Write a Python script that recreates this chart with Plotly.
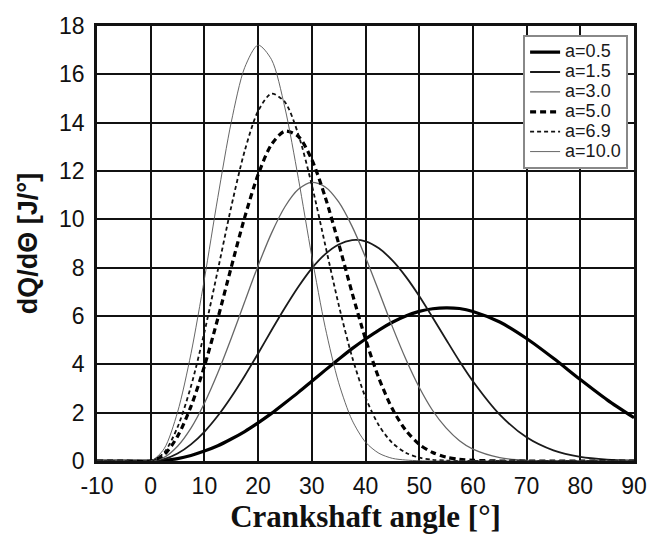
import plotly.graph_objects as go

angle = [-10, -5, 0, 2.5, 5, 7.5, 10, 12.5, 15, 17.5, 20, 22.5, 25, 27.5, 30, 32.5, 35, 37.5,
         40, 42.5, 45, 47.5, 50, 52.5, 55, 57.5, 60, 65, 70, 75, 80, 85, 90]

a05 = [0, 0, 0, 0.03, 0.10, 0.23, 0.41, 0.63, 0.91, 1.22, 1.58, 1.97, 2.40, 2.84, 3.30, 3.76, 4.21, 4.65,
       5.05, 5.42, 5.74, 6.00, 6.19, 6.30, 6.34, 6.31, 6.19, 5.75, 5.07, 4.25, 3.37, 2.53, 1.79]
a15 = [0, 0, 0, 0.08, 0.31, 0.69, 1.21, 1.87, 2.65, 3.52, 4.45, 5.41, 6.34, 7.21, 7.97, 8.56, 8.96, 9.14,
       9.09, 8.80, 8.30, 7.63, 6.83, 5.94, 5.03, 4.13, 3.30, 1.92, 0.98, 0.44, 0.17, 0.06, 0.02]
a30 = [0, 0, 0, 0.15, 0.61, 1.36, 2.39, 3.65, 5.08, 6.59, 8.08, 9.43, 10.52, 11.24, 11.53, 11.34, 10.72, 9.71,
       8.43, 7.01, 5.56, 4.22, 3.05, 2.09, 1.37, 0.84, 0.49, 0.14, 0.03, 0.01, 0, 0, 0]
a50 = [0, 0, 0, 0.26, 1.02, 2.26, 3.92, 5.90, 8.02, 10.08, 11.85, 13.10, 13.65, 13.43, 12.47, 10.92, 9.00, 6.96,
       5.05, 3.42, 2.16, 1.27, 0.69, 0.35, 0.16, 0.07, 0.03, 0, 0, 0, 0, 0, 0]
a69 = [0, 0, 0, 0.35, 1.40, 3.09, 5.33, 7.90, 10.52, 12.83, 14.48, 15.20, 14.85, 13.51, 11.42, 8.94, 6.47, 4.31,
       2.63, 1.47, 0.75, 0.34, 0.14, 0.05, 0.02, 0, 0, 0, 0, 0, 0, 0, 0]
a100 = [0, 0, 0, 0.51, 2.02, 4.44, 7.53, 10.91, 14.02, 16.28, 17.21, 16.61, 14.61, 11.69, 8.47, 5.53, 3.24, 1.69,
        0.78, 0.32, 0.11, 0.04, 0.01, 0, 0, 0, 0, 0, 0, 0, 0, 0, 0]

names = ["a=0.5", "a=1.5", "a=3.0", "a=5.0", "a=6.9", "a=10.0"]
series = [a05, a15, a30, a50, a69, a100]
styles = [
    dict(color="#000000", width=3.2, dash="solid"),
    dict(color="#1a1a1a", width=1.8, dash="solid"),
    dict(color="#666666", width=1.3, dash="solid"),
    dict(color="#000000", width=3.2, dash="6px,4px"),
    dict(color="#111111", width=1.8, dash="4px,3px"),
    dict(color="#555555", width=0.9, dash="solid"),
]

x_ticks = [-10, 0, 10, 20, 30, 40, 50, 60, 70, 80, 90]
y_ticks = [0, 2, 4, 6, 8, 10, 12, 14, 16, 18]

fig = go.Figure()
for nm, ys, st in zip(names, series, styles):
    fig.add_trace(go.Scatter(x=angle, y=ys, mode="lines",
                             name="<span style='font-size:18px'>" + nm + "</span>",
                             line=dict(color=st["color"], width=st["width"], dash=st["dash"],
                                       shape="spline", smoothing=0.8)))

fig.update_layout(
    width=659, height=539,
    margin=dict(l=97, r=25, t=26, b=78),
    paper_bgcolor="white", plot_bgcolor="white",
    font=dict(family="Liberation Sans, Arial, sans-serif", color="#111111"),
    showlegend=True,
    legend=dict(x=0.989, y=0.979, xanchor="right", yanchor="top",
                bgcolor="white", bordercolor="#888888", borderwidth=2,
                font=dict(size=13, family="Liberation Sans, Arial, sans-serif", color="#1a1a1a"),
                tracegroupgap=0, itemwidth=30),
)
fig.update_xaxes(range=[-10, 90], tickvals=x_ticks, ticktext=[str(v) for v in x_ticks],
                 showgrid=True, gridcolor="#111111", gridwidth=1.8,
                 showline=True, linecolor="#111111", linewidth=2.5, mirror=True,
                 zeroline=False, ticks="", tickfont=dict(size=23), ticklabelstandoff=3,
                 title=dict(text="<b>Crankshaft angle [°]</b>",
                            font=dict(family="Liberation Serif, Times New Roman, serif", size=31, color="#111111"),
                            standoff=4))
fig.update_yaxes(range=[0, 18], tickvals=y_ticks, ticktext=[str(v) for v in y_ticks],
                 showgrid=True, gridcolor="#111111", gridwidth=1.8,
                 showline=True, linecolor="#111111", linewidth=2.5, mirror=True,
                 zeroline=False, ticks="", tickfont=dict(size=23), ticklabelstandoff=5,
                 title=dict(text="<b>dQ/dΘ [J/°]</b>",
                            font=dict(family="Liberation Sans, Arial, sans-serif", size=27, color="#111111"),
                            standoff=14))

fig.write_html("out.html")
